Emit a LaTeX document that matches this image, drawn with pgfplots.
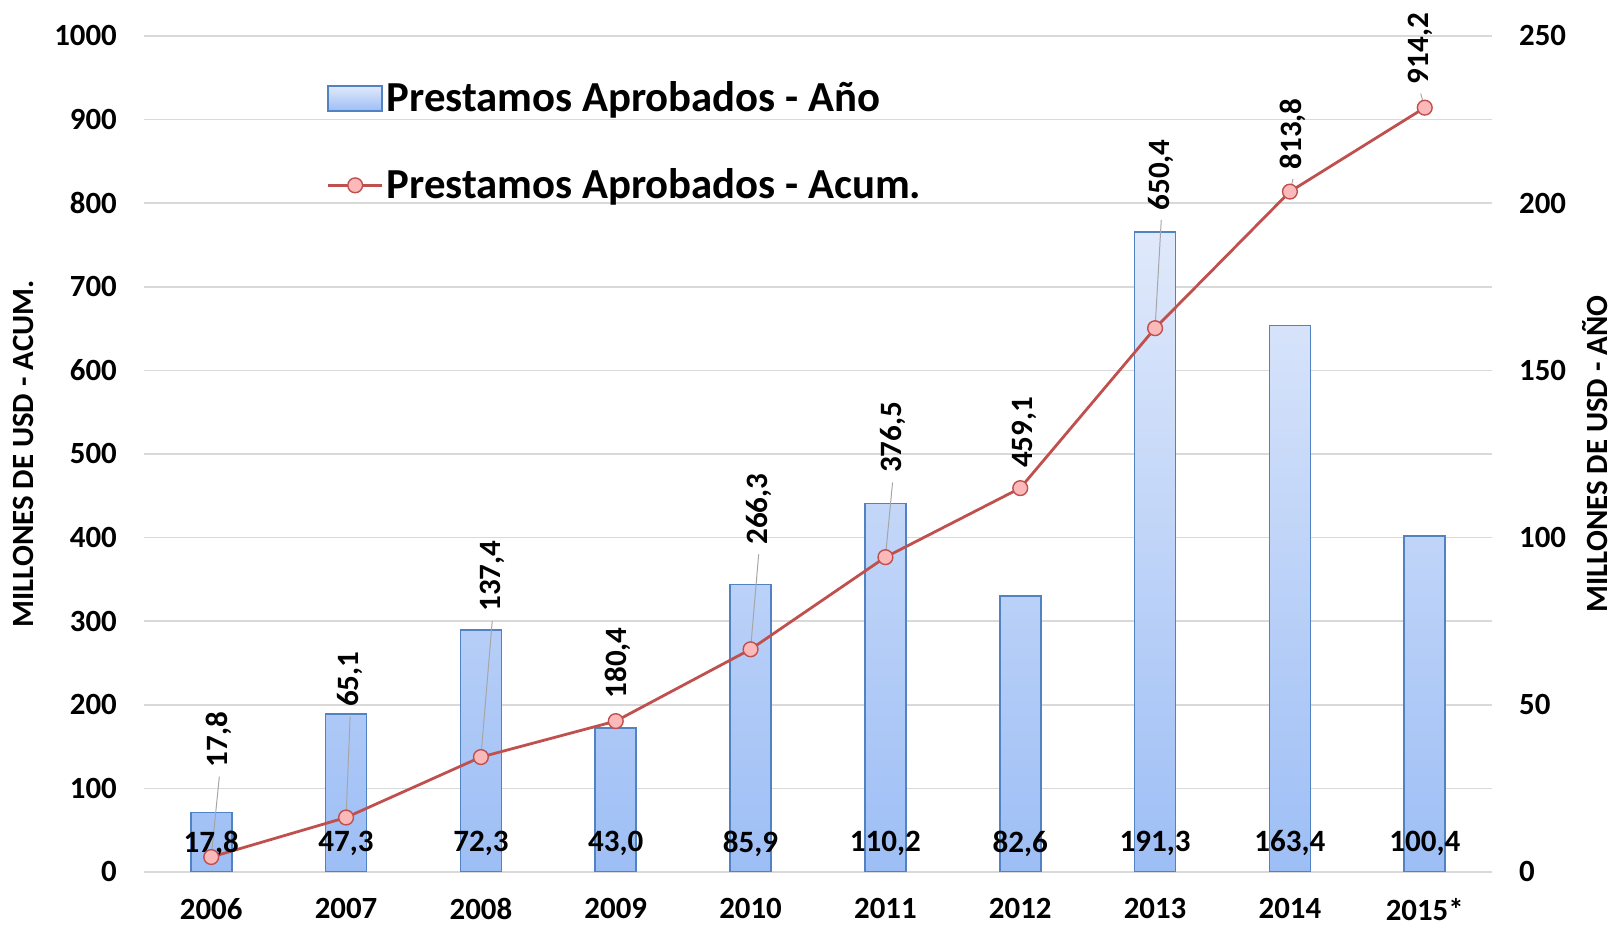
\documentclass[border=0pt]{standalone}
\usepackage{fontspec}
\setmainfont{Carlito}
\usepackage{pgfplots}
\pgfplotsset{compat=1.18}
\definecolor{gridc}{HTML}{D9D9D9}
\definecolor{barEdge}{HTML}{5182C2}
\definecolor{barTop}{HTML}{E0E9FB}
\definecolor{barBot}{HTML}{9DBEF5}
\definecolor{lineC}{HTML}{C0504D}
\definecolor{markF}{HTML}{FBB9B9}
\definecolor{leadC}{HTML}{A6A6A6}
\newcommand\tf{\fontsize{15.5}{18}\selectfont\bfseries}
\newcommand\df{\fontsize{15.6}{18}\selectfont\bfseries}
\newcommand\lf{\fontsize{21.5}{25}\selectfont\bfseries}
\pgfplotsset{
  common/.style={width=675bp, height=418.5bp, scale only axis,
    xmin=-0.5, xmax=9.5, xtick={0,...,9},
    xticklabels={2006,2007,2008,2009,2010,2011,2012,2013,2014,2015*},
    major tick length=0, minor tick num=0,
    /pgf/number format/assume math mode=true,
    /pgf/number format/1000 sep={},
    ticklabel style={font=\tf},
  }
}
\begin{document}
\begin{tikzpicture}
% grid and left axis
\begin{axis}[common, ymin=0, ymax=1000, ytick={0,100,...,1000},
  ymajorgrids, grid style={gridc, line width=0.8bp},
  axis line style={draw=none},
  yticklabel style={xshift=-10bp},
  xticklabel style={yshift=-11bp, inner ysep=2bp},
  ylabel={MILLONES DE USD - ACUM.},
  every axis y label/.style={at={([xshift=-60bp]axis description cs:0,0.5)}, anchor=center, rotate=90, font=\tf, inner sep=1bp},
]
\addplot[draw=none] coordinates {(0,0)};
\coordinate (SW) at (rel axis cs:0,0);
\coordinate (NE) at (rel axis cs:1,1);
\end{axis}
% bars, right axis
\begin{axis}[common, ymin=0, ymax=250, ytick={0,50,...,250},
  axis y line*=right, hide x axis,
  y axis line style={draw=none},
  yticklabel style={xshift=10bp},
  ylabel={MILLONES DE USD - AÑO},
  every axis y label/.style={at={([xshift=51.5bp]axis description cs:1,0.5)}, anchor=center, rotate=90, font=\tf, inner sep=1bp},
]
\addplot[ybar, bar width=20.5bp, draw=barEdge, line width=0.8bp, top color=barTop, bottom color=barBot]
  coordinates {(0,17.8) (1,47.3) (2,72.3) (3,43.0) (4,85.9) (5,110.2) (6,82.6) (7,191.3) (8,163.4) (9,100.4)};
\end{axis}
% accumulated line, left scale
\begin{axis}[common, ymin=0, ymax=1000, hide axis, clip=false,
  legend style={at={(axis description cs:0.131,0.955)}, anchor=north west, draw=none, fill=none,
    font=\lf, row sep=23bp, nodes={inner xsep=1.5bp}},
  legend cell align=left,
]
\addlegendimage{legend image code/.code={\draw[draw=barEdge, line width=0.8bp, top color=barTop, bottom color=barBot] (0bp,-6.25bp) rectangle (27bp,6.25bp);}}
\addlegendentry{Prestamos Aprobados - Año}
% leader lines
\draw[leadC, line width=0.5bp] (axis cs:0,17.8) -- (axis cs:0.06,114);
\draw[leadC, line width=0.5bp] (axis cs:1,65.1) -- (axis cs:1.03,186);
\draw[leadC, line width=0.5bp] (axis cs:2,137.4) -- (axis cs:2.084,300);
\draw[leadC, line width=0.5bp] (axis cs:4,266.3) -- (axis cs:4.06,380);
\draw[leadC, line width=0.5bp] (axis cs:5,376.5) -- (axis cs:5.053,466);
\draw[leadC, line width=0.5bp] (axis cs:7,650.4) -- (axis cs:7.046,780);
\draw[leadC, line width=0.5bp] (axis cs:8,813.8) -- (axis cs:8.023,829);
\draw[leadC, line width=0.5bp] (axis cs:9,914.2) -- (axis cs:8.97,931);
\addplot[lineC, line width=1.4bp, mark=*, mark size=3.7bp, mark options={fill=markF, draw=lineC, line width=0.7bp},
  legend image code/.code={\draw[lineC, line width=1.4bp] (0bp,0bp) -- (27bp,0bp); \draw[fill=markF, draw=lineC, line width=0.7bp] (13.5bp,0bp) circle (3.7bp);}]
  coordinates {(0,17.8) (1,65.1) (2,137.4) (3,180.4) (4,266.3) (5,376.5) (6,459.1) (7,650.4) (8,813.8) (9,914.2)};
\addlegendentry{Prestamos Aprobados - Acum.}
% line value labels
\begin{scope}[every node/.style={rotate=90, anchor=west, inner sep=0pt, font=\df}]
\node at (axis cs:0.06,125) {17,8};
\node at (axis cs:1.03,197) {65,1};
\node at (axis cs:2.084,311) {137,4};
\node at (axis cs:3.015,207) {180,4};
\node at (axis cs:4.06,391) {266,3};
\node at (axis cs:5.053,477) {376,5};
\node at (axis cs:6.03,483) {459,1};
\node at (axis cs:7.046,791) {650,4};
\node at (axis cs:8.023,840) {813,8};
\node at (axis cs:8.97,942) {914,2};
\end{scope}
% bar value labels
\begin{scope}[every node/.style={anchor=center, inner sep=0pt, font=\df}]
\node at (axis cs:0,34) {17,8};
\node at (axis cs:1,34) {47,3};
\node at (axis cs:2,34) {72,3};
\node at (axis cs:3,34) {43,0};
\node at (axis cs:4,34) {85,9};
\node at (axis cs:5,34) {110,2};
\node at (axis cs:6,34) {82,6};
\node at (axis cs:7,34) {191,3};
\node at (axis cs:8,34) {163,4};
\node at (axis cs:9,34) {100,4};
\end{scope}
\end{axis}
\pgfresetboundingbox
\path[use as bounding box] ([xshift=-72bp,yshift=-29.5bp]SW) rectangle ([xshift=61.5bp,yshift=18bp]NE);
\end{tikzpicture}
\end{document}
